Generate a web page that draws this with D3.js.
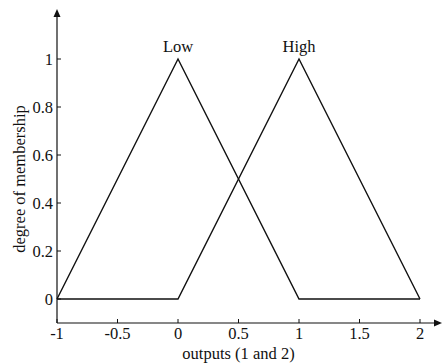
<!DOCTYPE html>
<html>
<head>
<meta charset="utf-8">
<script src="https://cdn.jsdelivr.net/npm/d3@7"></script>
<style>
  body { margin: 0; background: #fff; }
  text { font-family: "Liberation Serif", "DejaVu Serif", serif; fill: #111; }
</style>
</head>
<body>
<div id="chart"></div>
<script>
// membership functions sampled at the breakpoints
const xs = [-1, 0, 1, 2];
const low = [0, 1, 0, 0];
const high = [0, 0, 1, 0];
const xTicks = [-1, -0.5, 0, 0.5, 1, 1.5, 2];
const yTicks = [0, 0.2, 0.4, 0.6, 0.8, 1];
const labels = [{ name: 'Low', x: 0, y: 1 }, { name: 'High', x: 1, y: 1 }];

const width = 442, height = 364;
const x = d3.scaleLinear().domain([-1, 2]).range([57, 420]);
const y = d3.scaleLinear().domain([0, 1]).range([299, 59]);
const axisY = y(-0.1);

const svg = d3.select('#chart').append('svg')
  .attr('width', width)
  .attr('height', height);

// axes lines with arrows
svg.append('line')
  .attr('x1', x(-1)).attr('x2', 436)
  .attr('y1', axisY).attr('y2', axisY)
  .attr('stroke', '#111').attr('stroke-width', 1.2);
svg.append('path')
  .attr('d', `M442,${axisY} L434,${axisY - 3.5} L434,${axisY + 3.5} Z`)
  .attr('fill', '#111');

svg.append('line')
  .attr('x1', x(-1)).attr('x2', x(-1))
  .attr('y1', axisY).attr('y2', 16)
  .attr('stroke', '#111').attr('stroke-width', 1.2);
svg.append('path')
  .attr('d', `M${x(-1)},9 L${x(-1) - 3.5},17 L${x(-1) + 3.5},17 Z`)
  .attr('fill', '#111');

// ticks pointing inward
svg.selectAll('.xt').data(xTicks).enter().append('line')
  .attr('x1', d => x(d)).attr('x2', d => x(d))
  .attr('y1', axisY).attr('y2', axisY - 4)
  .attr('stroke', '#111');
svg.selectAll('.xl').data(xTicks).enter().append('text')
  .attr('x', d => x(d)).attr('y', axisY + 16)
  .attr('text-anchor', 'middle')
  .style('font-size', '16.5px')
  .text(d => d);

svg.selectAll('.yt').data(yTicks).enter().append('line')
  .attr('x1', x(-1)).attr('x2', x(-1) + 4)
  .attr('y1', d => y(d)).attr('y2', d => y(d))
  .attr('stroke', '#111');
svg.selectAll('.yl').data(yTicks).enter().append('text')
  .attr('x', 53).attr('y', d => y(d) + 5.5)
  .attr('text-anchor', 'end')
  .style('font-size', '16.5px')
  .text(d => d);

// axis titles
svg.append('text')
  .attr('x', x(0.5)).attr('y', 359)
  .attr('text-anchor', 'middle')
  .style('font-size', '16.5px')
  .text('outputs (1 and 2)');
svg.append('text')
  .attr('transform', `translate(25, ${y(0.5)}) rotate(-90)`)
  .attr('text-anchor', 'middle')
  .style('font-size', '16.5px')
  .text('degree of membership');

// curves
const line = d3.line().x(d => x(d[0])).y(d => y(d[1]));
[low, high].forEach(s => {
  svg.append('path')
    .attr('d', line(xs.map((v, i) => [v, s[i]])))
    .attr('fill', 'none')
    .attr('stroke', '#111')
    .attr('stroke-width', 1.4);
});

svg.selectAll('.lab').data(labels).enter().append('text')
  .attr('x', d => x(d.x)).attr('y', d => y(d.y) - 7)
  .attr('text-anchor', 'middle')
  .style('font-size', '16.5px')
  .text(d => d.name);
</script>
</body>
</html>
